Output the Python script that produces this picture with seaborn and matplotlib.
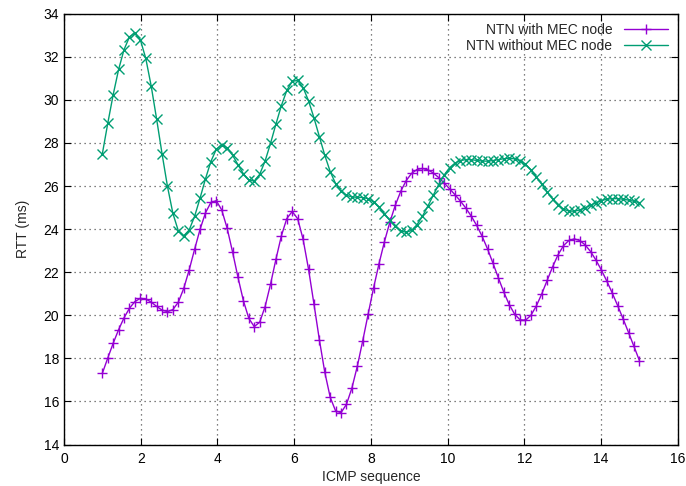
import numpy as np
import pandas as pd
import matplotlib
matplotlib.use("Agg")
import matplotlib.pyplot as plt
import seaborn as sns

# ICMP sequence numbers and measured round-trip times (ms)
seq = [1, 2, 3, 4, 5, 6, 7, 8, 9, 10, 11, 12, 13, 14, 15]
rtt_with_mec = [17.31, 20.79, 20.68, 25.27, 19.47, 24.78, 15.85, 20.68,
                26.46, 25.97, 23.26, 19.75, 23.18, 22.13, 17.90]
rtt_without_mec = [27.50, 32.74, 23.85, 27.78, 26.28, 30.92, 26.40, 25.35,
                   23.88, 26.74, 27.15, 27.05, 24.95, 25.32, 25.23]
series_names = ["NTN with MEC node", "NTN without MEC node"]
x_ticks = [0, 2, 4, 6, 8, 10, 12, 14, 16]
y_ticks = [14, 16, 18, 20, 22, 24, 26, 28, 30, 32, 34]


def natural_cspline(x, y, n_samples=100):
    """Natural cubic spline through (x, y), sampled evenly (gnuplot 'smooth csplines')."""
    x = np.asarray(x, float)
    y = np.asarray(y, float)
    n = len(x)
    h = np.diff(x)
    A = np.zeros((n, n))
    b = np.zeros(n)
    A[0, 0] = A[-1, -1] = 1.0
    for i in range(1, n - 1):
        A[i, i - 1] = h[i - 1]
        A[i, i] = 2 * (h[i - 1] + h[i])
        A[i, i + 1] = h[i]
        b[i] = 6 * ((y[i + 1] - y[i]) / h[i] - (y[i] - y[i - 1]) / h[i - 1])
    M = np.linalg.solve(A, b)
    xs = np.linspace(x[0], x[-1], n_samples)
    idx = np.clip(np.searchsorted(x, xs) - 1, 0, n - 2)
    x0, x1 = x[idx], x[idx + 1]
    hh = x1 - x0
    t0, t1 = x1 - xs, xs - x0
    ys = (M[idx] * t0 ** 3 + M[idx + 1] * t1 ** 3) / (6 * hh) \
        + (y[idx] / hh - M[idx] * hh / 6) * t0 \
        + (y[idx + 1] / hh - M[idx + 1] * hh / 6) * t1
    return xs, ys


sns.set_style("ticks")
plt.rcParams["font.family"] = ["Liberation Sans", "DejaVu Sans"]
plt.rcParams["font.size"] = 10

fig = plt.figure(figsize=(6.86, 4.86), dpi=100)
ax = fig.add_axes([0.0933, 0.0852, 0.8947, 0.8868])

colors = ["#9400D3", "#009E73"]
markers = ["+", "x"]
for name, vals, col, mk in zip(series_names, [rtt_with_mec, rtt_without_mec], colors, markers):
    xs, ys = natural_cspline(seq, vals)
    df = pd.DataFrame({"ICMP sequence": xs, "RTT (ms)": ys})
    sns.lineplot(data=df, x="ICMP sequence", y="RTT (ms)", ax=ax, color=col,
                 marker=mk, markersize=6.5, markeredgewidth=1.0,
                 markeredgecolor=col, markerfacecolor=col,
                 linewidth=1.0, linestyle="-", label=name, sort=False)

ax.set_xlim(0, 16)
ax.set_ylim(14, 34)
ax.set_xticks(x_ticks)
ax.set_yticks(y_ticks)
ax.set_xlabel("ICMP sequence", fontsize=10, labelpad=3)
ax.set_ylabel("RTT (ms)", fontsize=10, labelpad=10)
ax.tick_params(direction="in", top=True, right=True, length=5, width=0.8,
               labelsize=10, colors="black")
ax.tick_params(axis="x", pad=5)
for s in ax.spines.values():
    s.set_visible(True)
    s.set_linewidth(1.0)
    s.set_color("black")
ax.grid(True, linestyle=(0, (1, 3)), color="#555555", linewidth=0.9)

leg = ax.legend(loc="upper right", frameon=False, markerfirst=False,
                handlelength=3.2, handletextpad=0.8, labelspacing=0.1,
                borderaxespad=0.3, fontsize=10, numpoints=1)

fig.savefig("out.png", dpi=100)
